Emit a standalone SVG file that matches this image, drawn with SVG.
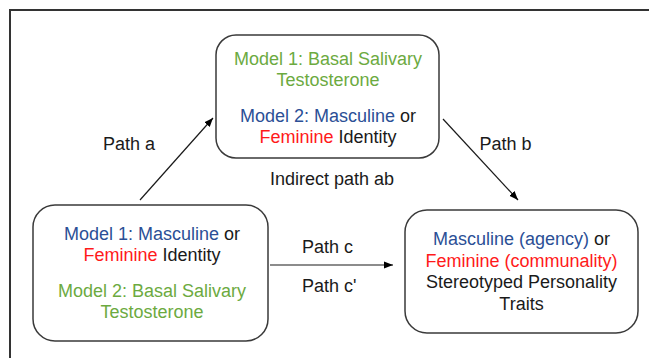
<svg xmlns="http://www.w3.org/2000/svg" width="649" height="358" viewBox="0 0 649 358">
<defs>
<marker id="ah" viewBox="0 0 10 10" refX="10" refY="5" markerWidth="9" markerHeight="9" markerUnits="userSpaceOnUse" orient="auto">
<path d="M0,1 L10,5 L0,9 z" fill="#000"/>
</marker>
</defs>
<style>
text{font-family:"Liberation Sans",Arial,sans-serif;font-size:18px;fill:#1a1a1a}
.c{text-anchor:middle}
.g{fill:#6CAA3F}
.b{fill:#2B4F96}
.r{fill:#FF1A1A}
.box{fill:#fff;stroke:#3a3a3a;stroke-width:1.5}
.edge{stroke:#1a1a1a;stroke-width:1.2;fill:none;marker-end:url(#ah)}
</style>
<rect x="0" y="0" width="649" height="358" fill="#fff"/>
<rect x="10" y="10" width="700" height="400" fill="none" stroke="#333" stroke-width="2"/>
<g id="connectors">
<line class="edge" x1="140" y1="200" x2="213" y2="118"/>
<line class="edge" x1="443" y1="119" x2="518" y2="200"/>
<line class="edge" x1="270" y1="265" x2="393" y2="265"/>
<text x="129" y="150" class="c">Path a</text>
<text x="505.5" y="150" class="c">Path b</text>
<text x="332" y="185" class="c">Indirect path ab</text>
<text x="302" y="253">Path c</text>
<text x="302" y="292">Path c'</text>
</g>
<g id="mediator">
<rect class="box" x="216" y="35" width="223" height="123" rx="20"/>
<text x="328" y="65" class="c g">Model 1: Basal Salivary</text>
<text x="328" y="85.5" class="c g">Testosterone</text>
<text x="328" y="122" class="c"><tspan class="b">Model 2: Masculine</tspan> or</text>
<text x="328" y="142.5" class="c"><tspan class="r">Feminine</tspan> Identity</text>
</g>
<g id="predictor">
<rect class="box" x="33" y="205" width="235" height="136" rx="22"/>
<text x="152" y="240" class="c"><tspan class="b">Model 1: Masculine</tspan> or</text>
<text x="152" y="261" class="c"><tspan class="r">Feminine</tspan> Identity</text>
<text x="152" y="297" class="c g">Model 2: Basal Salivary</text>
<text x="152" y="318" class="c g">Testosterone</text>
</g>
<g id="outcome">
<rect class="box" x="405" y="210" width="233" height="123" rx="22"/>
<text x="521.5" y="245" class="c"><tspan class="b">Masculine (agency)</tspan> or</text>
<text x="521.5" y="266.5" class="c r">Feminine (communality)</text>
<text x="521.5" y="288" class="c">Stereotyped Personality</text>
<text x="521.5" y="309.5" class="c">Traits</text>
</g>
</svg>
